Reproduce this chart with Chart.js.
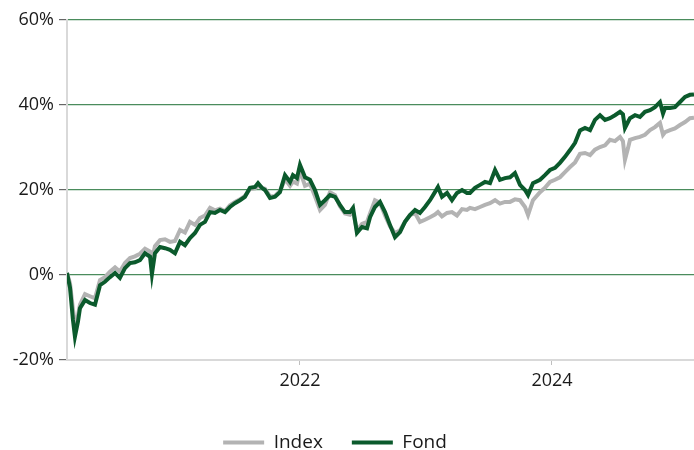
<!DOCTYPE html>
<html>
<head>
<meta charset="utf-8">
<script src="https://cdn.jsdelivr.net/npm/chart.js@4"></script>
<style>
  html, body { margin: 0; padding: 0; background: #fff; }
  #wrap { width: 694px; height: 450px; }
</style>
</head>
<body>
<div id="wrap"><canvas id="grafico1"></canvas></div>
<script>
// decimal years
var dates = [
  2020.151, 2020.175, 2020.198, 2020.214, 2020.238, 2020.254, 2020.294, 2020.333, 2020.373, 2020.413,
  2020.452, 2020.492, 2020.532, 2020.571, 2020.611, 2020.651, 2020.690, 2020.730, 2020.770, 2020.810,
  2020.825, 2020.849, 2020.889, 2020.929, 2020.968, 2021.008, 2021.048, 2021.087, 2021.127, 2021.167,
  2021.206, 2021.246, 2021.286, 2021.325, 2021.365, 2021.405, 2021.444, 2021.484, 2021.524, 2021.563,
  2021.603, 2021.643, 2021.667, 2021.698, 2021.722, 2021.762, 2021.802, 2021.841, 2021.881, 2021.921,
  2021.944, 2021.976, 2022.000, 2022.040, 2022.079, 2022.119, 2022.159, 2022.198, 2022.238, 2022.278,
  2022.317, 2022.357, 2022.397, 2022.421, 2022.452, 2022.492, 2022.532, 2022.556, 2022.595, 2022.635,
  2022.675, 2022.714, 2022.754, 2022.794, 2022.833, 2022.873, 2022.913, 2022.952, 2022.992, 2023.032,
  2023.071, 2023.095, 2023.127, 2023.167, 2023.206, 2023.246, 2023.286, 2023.325, 2023.349, 2023.389,
  2023.429, 2023.468, 2023.508, 2023.548, 2023.587, 2023.627, 2023.667, 2023.706, 2023.746, 2023.786,
  2023.810, 2023.849, 2023.905, 2023.944, 2023.984, 2024.024, 2024.063, 2024.103, 2024.143, 2024.183,
  2024.222, 2024.262, 2024.302, 2024.341, 2024.381, 2024.421, 2024.460, 2024.500, 2024.540, 2024.563,
  2024.579, 2024.603, 2024.619, 2024.659, 2024.698, 2024.738, 2024.778, 2024.817, 2024.857, 2024.881,
  2024.897, 2024.937, 2024.976, 2025.016, 2025.056, 2025.095, 2025.127
];

var fond = [
  0.5, -3, -10.5, -14.5, -11, -7.8, -5.9, -6.6, -7, -2.4,
  -1.6, -0.5, 0.5, -0.7, 1.6, 2.8, 3.0, 3.5, 5.1, 4.3,
  0.2, 5.1, 6.6, 6.3, 5.9, 5.1, 7.8, 7.0, 8.7, 9.9,
  11.8, 12.5, 14.8, 14.6, 15.3, 14.8, 16.0, 16.9, 17.6, 18.4,
  20.5, 20.7, 21.6, 20.5, 20.0, 18.1, 18.4, 19.5, 23.5, 21.9,
  23.5, 22.8, 25.9, 23.0, 22.4, 20.0, 16.5, 17.6, 18.8, 18.4,
  16.5, 14.8, 14.8, 15.8, 9.9, 11.3, 11.0, 13.6, 16.0, 17.2,
  14.8, 11.8, 8.9, 10.1, 12.5, 14.1, 15.3, 14.6, 16.0, 17.6,
  19.5, 20.7, 18.4, 19.3, 17.6, 19.3, 20.0, 19.3, 19.3, 20.5,
  21.2, 21.9, 21.6, 24.7, 22.4, 22.8, 23.0, 24.0, 21.2, 20.0,
  18.8, 21.6, 22.4, 23.5, 24.7, 25.2, 26.4, 27.8, 29.4, 31.1,
  34.0, 34.6, 34.1, 36.5, 37.6, 36.5, 36.9, 37.6, 38.4, 37.8,
  34.6, 36.0, 36.9, 37.6, 37.2, 38.4, 38.8, 39.5, 40.7, 38.0,
  39.3, 39.3, 39.5, 40.7, 41.9, 42.4, 42.5
];

var index = [
  0.5, -2, -8, -11.5, -9.5, -7, -4.5, -5, -5.5, -1.2,
  -0.5, 0.8, 1.8, 0.8, 2.8, 4, 4.4, 5, 6.2, 5.5,
  3.5, 6.8, 8.2, 8.4, 7.8, 8, 10.6, 10, 12.5, 11.8,
  13.4, 14, 15.8, 15.2, 15.6, 15, 16.4, 17.2, 17.8, 18.6,
  20.2, 20.4, 21, 20.5, 20.3, 18.5, 18.6, 19.8, 22.5, 21,
  22, 21.5, 24.5, 21, 21.5, 18.5, 15.3, 16.5, 19.5, 18.8,
  16.2, 14.5, 14.2, 15, 10.5, 12.0, 12.5, 14.5, 17.6, 17.0,
  14.0, 11.5, 9.9, 10.5, 12.5, 14.1, 14.6, 12.5, 13.0, 13.6,
  14.2, 14.8, 13.8, 14.6, 14.8, 14.0, 15.5, 15.3, 15.8, 15.5,
  16.0, 16.5, 16.9, 17.6, 16.8, 17.2, 17.2, 17.8, 17.6, 16.0,
  14.1, 17.6, 19.5, 20.5, 21.9, 22.4, 23.0, 24.2, 25.4, 26.5,
  28.5, 28.7, 28.2, 29.5, 30.1, 30.5, 31.8, 31.5, 32.5, 31.5,
  27.1, 29.8, 31.8, 32.2, 32.5, 33.0, 34.1, 34.8, 35.8, 33.0,
  33.6, 34.1, 34.5, 35.3, 36.0, 36.9, 37.0
];

var tickYears = [2022, 2024];
var yTicks = [-20, 0, 20, 40, 60];

var fontFam = "'Open Sans', sans-serif";

function pts(vals) {
  return dates.map(function (d, i) { return { x: d, y: vals[i] }; });
}

// nudge the legend a little left / down like the original
var legendNudge = {
  id: 'legendNudge',
  afterLayout: function (chart) {
    var lg = chart.legend;
    lg.left -= 12; lg.right -= 12;
    lg.top += 12; lg.bottom += 12;
  }
};

var ctx = document.getElementById("grafico1");
var myChart = new Chart(ctx, {
  type: 'line',
  data: {
    datasets: [{
      label: "Fond",
      data: pts(fond),
      borderColor: "#0b5a2c",
      backgroundColor: "#0b5a2c",
      borderWidth: 4
    }, {
      label: "Index",
      data: pts(index),
      borderColor: "#b3b3b3",
      backgroundColor: "#b3b3b3",
      borderWidth: 4
    }]
  },
  options: {
    responsive: true,
    maintainAspectRatio: false,
    animation: false,
    elements: { point: { radius: 0 }, line: { tension: 0 } },
    layout: { padding: { top: 20, right: 0, bottom: 0, left: 0 } },
    scales: {
      x: {
        type: 'linear',
        min: dates[0],
        max: dates[dates.length - 1],
        afterBuildTicks: function (scale) {
          scale.ticks = tickYears.map(function (v) { return { value: v }; });
        },
        afterFit: function (scale) { scale.height = 32; },
        grid: { drawOnChartArea: false, tickLength: 5, tickColor: '#bfbfbf' },
        border: { color: '#d9d9d9', width: 2 },
        ticks: {
          padding: 5,
          maxRotation: 0,
          color: '#1a1a1a',
          font: { family: fontFam, size: 18 },
          callback: function (v) { return String(v); }
        }
      },
      y: {
        min: -20,
        max: 60,
        afterBuildTicks: function (scale) {
          scale.ticks = yTicks.map(function (v) { return { value: v }; });
        },
        afterFit: function (scale) { scale.width = 67; },
        grid: {
          color: function (c) { return c.tick && c.tick.value === -20 ? 'rgba(0,0,0,0)' : '#4a8c5c'; },
          lineWidth: 1.2,
          tickLength: 8,
          tickColor: '#666'
        },
        border: { color: '#d9d9d9', width: 2 },
        ticks: {
          padding: 5,
          color: '#1a1a1a',
          font: { family: fontFam, size: 18 },
          callback: function (v) { return v + '%'; }
        }
      }
    },
    plugins: {
      tooltip: { enabled: false },
      legend: {
        position: 'bottom',
        reverse: true,
        labels: {
          boxWidth: 41,
          boxHeight: 4,
          padding: 29,
          color: '#1a1a1a',
          font: { family: fontFam, size: 19 },
          generateLabels: function (chart) {
            var items = Chart.defaults.plugins.legend.labels.generateLabels(chart);
            items.forEach(function (it) { it.lineWidth = 0; });
            return items;
          }
        }
      }
    }
  },
  plugins: [legendNudge]
});
</script>
</body>
</html>
